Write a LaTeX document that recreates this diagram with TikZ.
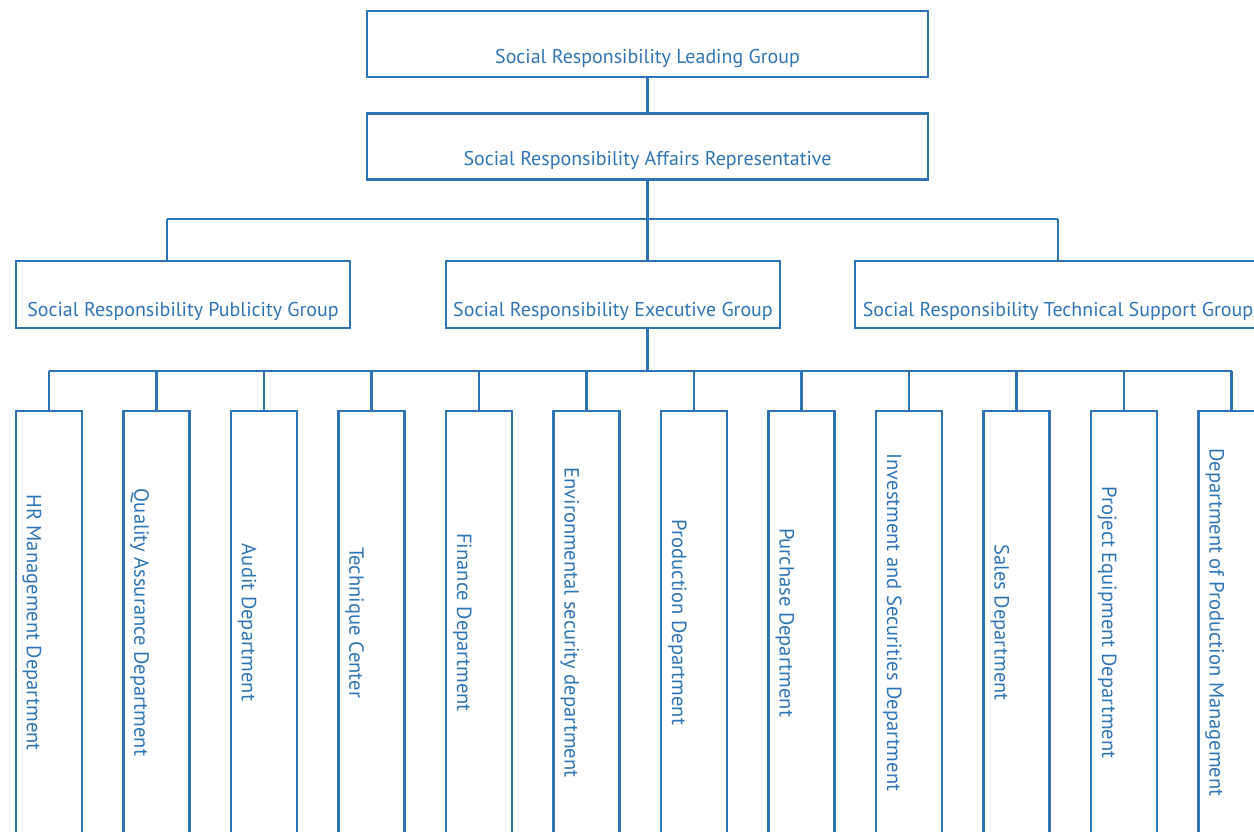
\documentclass[tikz,border=0pt]{standalone}
\usepackage{fontspec}
\setmainfont{PT Sans}
\definecolor{orgblue}{RGB}{46,117,182}
\tikzset{
	grpbox/.style={draw=orgblue, line width=1.7pt, text=orgblue, inner xsep=0pt, inner ysep=0pt,
		text height=1.3cm, text depth=0.35cm, font=\fontsize{14.2}{16}\selectfont},
	deptbox/.style={draw=orgblue, line width=1.7pt, text=orgblue, rotate=-90, inner xsep=0pt, inner ysep=0pt,
		minimum width=10.575cm, text height=1.375cm, text depth=0.275cm, font=\fontsize{14.6}{16}\selectfont},
	link/.style={draw=orgblue, line width=1.7pt}
}
\begin{document}
\begin{tikzpicture}[x=0.025cm, y=-0.025cm]
	\useasboundingbox (0,0) rectangle (1254,831);

	\node[grpbox, minimum width=14.025cm] (lead) at (647.5,44) {Social Responsibility Leading Group};
	\node[grpbox, minimum width=14.025cm] (rep) at (647.5,146.5) {Social Responsibility Affairs Representative};

	\node[grpbox, minimum width=8.35cm, text height=1.375cm, text depth=0.3cm] (pub) at (183,294.5) {Social Responsibility Publicity Group};
	\node[grpbox, minimum width=8.35cm, text height=1.375cm, text depth=0.3cm] (exe) at (613,294.5) {Social Responsibility Executive Group};
	\node[grpbox, minimum width=10.15cm, text height=1.375cm, text depth=0.3cm] (tech) at (1058,294.5) {Social Responsibility Technical Support Group};

	\node[deptbox] (d1) at (49,622.5) {HR Management Department};
	\node[deptbox] (d2) at (156.5,622.5) {Quality Assurance Department};
	\node[deptbox] (d3) at (264,622.5) {Audit Department};
	\node[deptbox] (d4) at (371.5,622.5) {Technique Center};
	\node[deptbox] (d5) at (479,622.5) {Finance Department};
	\node[deptbox] (d6) at (586.5,622.5) {Environmental security department};
	\node[deptbox] (d7) at (694,622.5) {Production Department};
	\node[deptbox] (d8) at (801.5,622.5) {Purchase Department};
	\node[deptbox] (d9) at (909,622.5) {Investment and Securities Department};
	\node[deptbox] (d10) at (1016.5,622.5) {Sales Department};
	\node[deptbox] (d11) at (1124,622.5) {Project Equipment Department};
	\node[deptbox] (d12) at (1231.5,622.5) {Department of Production Management};

	\coordinate (pubin) at (167,219);
	\coordinate (techin) at (1058,219);
	\coordinate (busB) at (647.5,371);

	\draw[link] (lead) -- (rep);
	\draw[link] (rep.south) -- (rep.south |- exe.north);
	\draw[link] (pubin) -- (techin);
	\draw[link] (pubin) -- (pubin |- pub.north);
	\draw[link] (techin) -- (techin |- tech.north);

	\draw[link] (exe.south -| busB) -- (busB);
	\draw[link] (d1.west |- busB) -- (d12.west |- busB);
	\draw[link] (d1.west) -- (d1.west |- busB) (d2.west) -- (d2.west |- busB)
		(d3.west) -- (d3.west |- busB) (d4.west) -- (d4.west |- busB)
		(d5.west) -- (d5.west |- busB) (d6.west) -- (d6.west |- busB)
		(d7.west) -- (d7.west |- busB) (d8.west) -- (d8.west |- busB)
		(d9.west) -- (d9.west |- busB) (d10.west) -- (d10.west |- busB)
		(d11.west) -- (d11.west |- busB) (d12.west) -- (d12.west |- busB);
\end{tikzpicture}
\end{document}
